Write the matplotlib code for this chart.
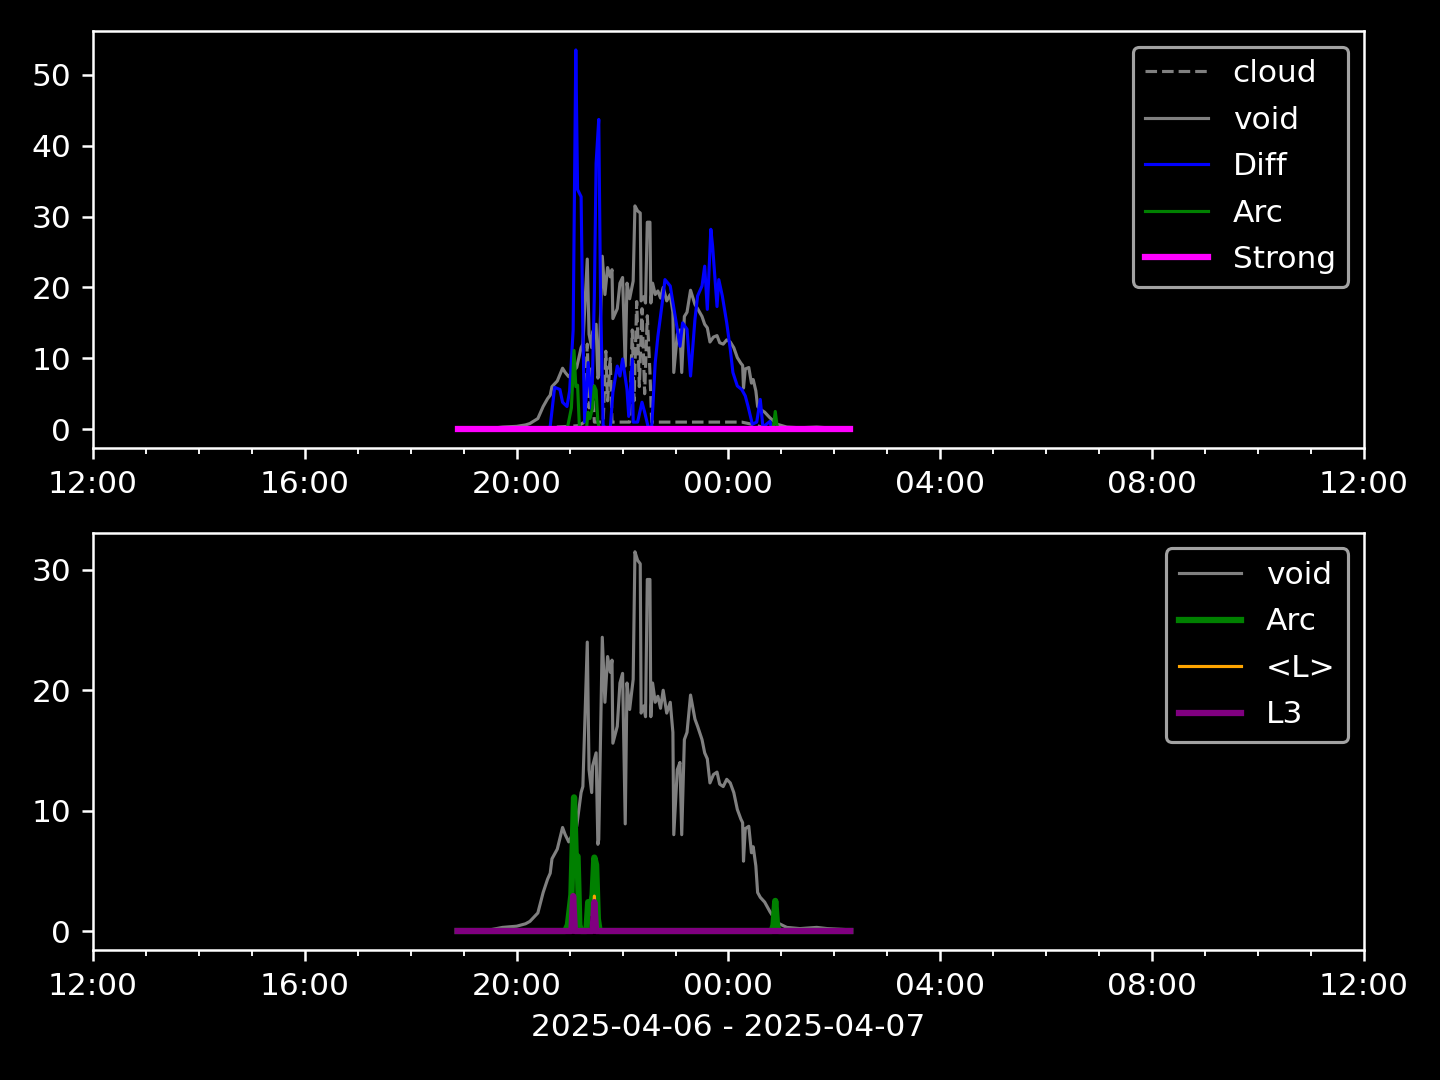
# Sky monitor traces for the night of 2025-04-06 -> 2025-04-07
# Two stacked panels on a dark background, shared time axis (12:00 to 12:00)

import matplotlib
matplotlib.use("Agg")
import matplotlib.pyplot as plt
import matplotlib.dates as mdates
import pandas as pd

day0 = "2025-04-06"

# --- data (HH:MM, values) ---
void_t = ["18:53", "19:30", "19:44", "20:00", "20:10", "20:15", "20:24", "20:30", "20:35",
          "20:38", "20:40", "20:46", "20:52", "20:55", "20:59", "21:03", "21:08", "21:13", "21:15", "21:20",
          "21:22", "21:25", "21:26", "21:30", "21:32", "21:33", "21:37", "21:40",
          "21:43", "21:46", "21:48", "21:49", "21:54", "21:57", "22:00", "22:03", "22:05",
          "22:08", "22:12", "22:14", "22:17", "22:20", "22:21", "22:24", "22:26",
          "22:28", "22:31", "22:32", "22:34", "22:37", "22:40", "22:43", "22:46", "22:50", "22:54",
          "22:57", "22:58", "23:02", "23:05", "23:07", "23:10", "23:13", "23:17",
          "23:22", "23:25", "23:30", "23:33", "23:36", "23:39", "23:43", "23:47", "23:50", "23:54", "23:58", "00:02",
          "00:06", "00:10", "00:14", "00:16", "00:17", "00:19", "00:23", "00:26", "00:28", "00:31", "00:33", "00:36",
          "00:41", "00:47", "00:55", "01:06", "01:21", "01:40", "01:52", "02:18"]
void_v = [0.1, 0.1, 0.3, 0.4, 0.6, 0.8, 1.5, 3.2, 4.3,
          4.8, 6.0, 6.8, 8.6, 8.0, 7.4, 8.0, 8.7, 11.5, 12.0, 24.0,
          13.4, 11.5, 13.7, 14.8, 7.2, 7.6, 24.4, 19.0,
          22.8, 21.5, 22.5, 15.6, 17.0, 20.6, 21.4, 8.9, 20.6,
          18.4, 20.9, 31.5, 30.8, 30.5, 18.1, 18.7, 17.8,
          29.2, 29.2, 17.8, 20.6, 19.0, 19.5, 18.5, 20.0, 18.1, 19.0,
          16.5, 8.0, 13.4, 14.0, 8.0, 15.9, 16.5, 19.6,
          17.6, 17.0, 15.9, 14.8, 14.3, 12.3, 13.0, 13.2, 12.2, 12.0, 12.6, 12.3,
          11.5, 10.1, 9.3, 9.0, 5.8, 8.5, 8.7, 6.5, 7.0, 5.4, 3.2, 2.8,
          2.4, 1.6, 0.7, 0.3, 0.2, 0.3, 0.2, 0.1]

cloud_t = ["18:53", "20:30", "20:45", "21:00", "21:10", "21:17", "21:20", "21:22",
           "21:25", "21:28", "21:38", "21:41", "21:43", "21:46", "21:48", "22:08",
           "22:11", "22:13", "22:16", "22:19", "22:22", "22:25", "22:28", "22:31",
           "22:33", "00:15", "00:30", "00:45", "02:18"]
cloud_v = [0.0, 0.1, 0.3, 0.4, 0.5, 1.0, 12.0, 3.0,
           9.0, 1.0, 1.0, 11.0, 4.0, 10.0, 1.0, 1.0,
           14.0, 4.0, 18.0, 6.0, 17.0, 5.0, 16.0, 8.0,
           1.0, 1.0, 0.6, 0.0, 0.0]

diff_t = ["18:53", "20:36", "20:38", "20:43", "20:49", "20:52", "20:57", "21:00",
          "21:04", "21:07", "21:09", "21:13", "21:15", "21:17", "21:21", "21:25",
          "21:28", "21:30", "21:33", "21:35", "21:38", "21:46", "21:49", "21:54",
          "21:57", "22:00", "22:05", "22:07", "22:11", "22:12", "22:17", "22:22",
          "22:25", "22:29", "22:33", "22:37", "22:40", "22:45", "22:48", "22:54",
          "22:57", "23:02", "23:05", "23:08", "23:13", "23:17", "23:22", "23:25",
          "23:30", "23:33", "23:36", "23:40", "23:42", "23:47", "23:49", "23:53",
          "23:58", "00:02", "00:05", "00:10", "00:15", "00:19", "00:22", "00:27",
          "00:32", "00:36", "00:39", "00:47", "00:49", "02:18"]
diff_v = [0.0, 0.0, 0.4, 5.9, 5.6, 3.8, 3.2, 5.4,
          14.0, 53.5, 33.8, 32.8, 14.0, 1.0, 9.4, 2.8,
          18.8, 37.5, 43.7, 18.8, 0.4, 0.0, 5.2, 8.9,
          7.5, 9.9, 5.6, 1.8, 9.9, 1.0, 1.0, 3.8,
          2.4, 0.3, 0.3, 9.4, 13.1, 17.9, 21.1, 20.2,
          17.9, 14.1, 11.7, 15.0, 14.1, 7.5, 15.5, 18.8,
          20.2, 23.0, 16.9, 28.2, 25.8, 17.3, 21.1, 18.8,
          15.0, 11.3, 8.0, 6.1, 5.6, 4.7, 3.3, 0.7,
          1.0, 4.2, 0.3, 1.1, 0.0, 0.0]

arc_t = ["18:53", "20:55", "20:58", "21:02", "21:05", "21:07", "21:09", "21:11",
         "21:13", "21:19", "21:21", "21:23", "21:26", "21:28", "21:30", "21:32",
         "21:34", "00:49", "00:51", "00:53", "00:55", "00:57", "02:18"]
arc_v = [0.0, 0.0, 0.5, 3.0, 11.1, 6.0, 6.2, 0.5,
         0.0, 0.0, 2.4, 1.5, 3.0, 6.1, 5.5, 1.0,
         0.0, 0.0, 0.5, 2.5, 0.5, 0.0, 0.0]

strong_t = ["18:53", "02:18"]
strong_v = [0.0, 0.0]

lmean_t = ["18:53", "21:02", "21:04", "21:06", "21:26", "21:28", "21:30", "02:18"]
lmean_v = [0.0, 0.0, 3.0, 0.0, 0.0, 2.9, 0.0, 0.0]

l3_t = ["18:53", "21:02", "21:04", "21:06", "21:26", "21:28", "21:30", "02:18"]
l3_v = [0.0, 0.0, 2.9, 0.0, 0.0, 2.4, 0.0, 0.0]


def to_time(hhmm):
    # times before noon belong to the next day
    ts = pd.Timestamp(f"{day0} {hhmm}")
    if ts.hour < 12:
        ts += pd.Timedelta(days=1)
    return ts


def series(times, values):
    return pd.Series(values, index=[to_time(t) for t in times])


void = series(void_t, void_v)
cloud = series(cloud_t, cloud_v)
diff = series(diff_t, diff_v)
arc = series(arc_t, arc_v)
strong = series(strong_t, strong_v)
lmean = series(lmean_t, lmean_v)
l3 = series(l3_t, l3_v)

plt.style.use("dark_background")
fig, (ax1, ax2) = plt.subplots(2, 1, figsize=(6.4, 4.8), dpi=225)

ax1.plot(cloud.index, cloud.values, color="gray", linestyle="--", linewidth=1, label="cloud")
ax1.plot(void.index, void.values, color="gray", linewidth=1, label="void")
ax1.plot(diff.index, diff.values, color="blue", linewidth=1, label="Diff")
ax1.plot(arc.index, arc.values, color="green", linewidth=1, label="Arc")
ax1.plot(strong.index, strong.values, color="magenta", linewidth=2, label="Strong")
ax1.legend(loc="upper right", labelspacing=0.56)

ax2.plot(void.index, void.values, color="gray", linewidth=1, label="void")
ax2.plot(arc.index, arc.values, color="green", linewidth=2, label="Arc")
ax2.plot(lmean.index, lmean.values, color="orange", linewidth=1, label="<L>")
ax2.plot(l3.index, l3.values, color="purple", linewidth=2, label="L3")
ax2.legend(loc="upper right", labelspacing=0.56)

start = pd.Timestamp(f"{day0} 12:00")
end = start + pd.Timedelta(days=1)
for ax in (ax1, ax2):
    ax.set_xlim(start, end)
    ax.xaxis.set_major_locator(mdates.HourLocator(byhour=range(0, 24, 4)))
    ax.xaxis.set_minor_locator(mdates.HourLocator())
    ax.xaxis.set_major_formatter(mdates.DateFormatter("%H:%M"))

ax2.set_xlabel("2025-04-06 - 2025-04-07")

fig.subplots_adjust(left=0.0646, right=0.9472, top=0.9713, bottom=0.1204, hspace=0.203)
plt.savefig("out.png", dpi=225)
